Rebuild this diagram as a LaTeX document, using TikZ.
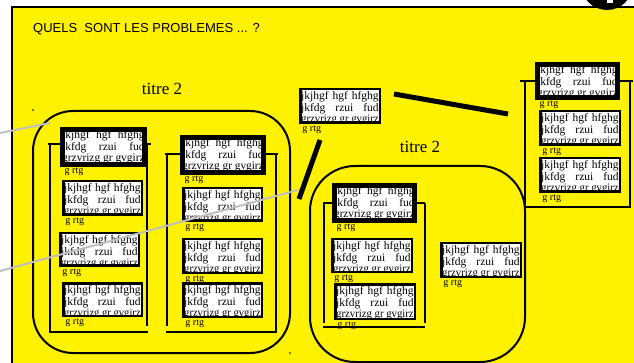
\documentclass[tikz,border=0pt]{standalone}
\usepackage{fontspec}
\setmainfont{Liberation Serif}
\newfontfamily\sansf{Liberation Sans}
\usetikzlibrary{calc}
\tikzset{
  kbox/.style={rectangle, draw=black, fill=white, inner sep=0pt, outer sep=0pt},
  lbl/.style={anchor=base west, inner sep=0pt, font=\fontsize{10}{10}\selectfont},
  brk/.style={line width=2pt},
  grp/.style={draw=black, line width=2pt, rectangle, inner sep=0pt},
  thk/.style={line width=5pt},
  gry/.style={draw=black!25, line width=2pt},
  ttl/.style={font=\fontsize{17}{17}\selectfont, inner sep=0pt}
}
\newcommand\kbtext[1]{\parbox[t]{#1}{\fontsize{11.5}{11.7}\selectfont
\makebox[#1][s]{jkjhgf hgf hfghg}\\
\makebox[#1][s]{jkfdg rzui fud}\\
\resizebox{#1}{\height}{grzvrizg gr gvgirz}}}
\newcommand\kb[6]{%
  \pgfmathsetmacro\kbW{#4-#6}%
  \pgfmathsetmacro\kbH{#5-#6}%
  \pgfmathsetmacro\kbX{#2+#4/2}%
  \pgfmathsetmacro\kbY{#3+#5/2}%
  \pgfmathsetmacro\kbT{#4-4.5}%
  \pgfmathsetmacro\kbL{#6/2}%
  \pgfmathsetmacro\kbTx{#2+2}%
  \pgfmathsetmacro\kbTy{#3+11.5}%
  \node[kbox, line width=#6pt, minimum width=\kbW pt, minimum height=\kbH pt] (#1) at (\kbX,\kbY) {};
  \begin{scope}
    \clip ([shift={(\kbL pt,\kbL pt)}]#1.south west) rectangle ([shift={(-\kbL pt,-\kbL pt)}]#1.north east);
    \node[anchor=base west, inner sep=0pt] (#1t) at (\kbTx,\kbTy) {\kbtext{\kbT pt}};
  \end{scope}
  \draw[line width=#6pt] (#1.south west) rectangle (#1.north east);
  \node[lbl] (#1l) at ([shift={(2pt,-9pt)}]#1.south west) {g rtg};
}
\begin{document}
\begin{tikzpicture}[x=1pt,y=-1pt]
\useasboundingbox (0,0) rectangle (634,363);
% background
\fill[yellow] (12,7) rectangle (640,370);
\draw[line width=2pt] (12,370) -- (12,7) -- (640,7);
\fill[black] (607,-16) circle (26);
\fill[white] (607,-1) rectangle (613,3);
% title
\node[anchor=base west, inner sep=0pt, font=\sansf\fontsize{13}{13}\selectfont] (H) at (33,32.5) {QUELS\ \ SONT LES PROBLEMES ... ?};
\node[ttl] (T1) at (162,88.5) {titre 2};
\node[ttl] (T2) at (420,147) {titre 2};
% groups
\node[grp, rounded corners=40pt, minimum width=257pt, minimum height=242pt] (G1) at (161.5,232) {};
\node[grp, rounded corners=45pt, minimum width=215pt, minimum height=196pt] (G2) at (417.5,264) {};
% brackets
\draw[brk] (48,144) -- (151,144);
\draw[brk] (50,144) -- (50,332) -- (148,332);
\draw[brk] (147,144) -- (147,326);
\draw[brk] (165,154) -- (278,154);
\draw[brk] (167,154) -- (167,326);
\draw[brk] (166,332) -- (276,332) -- (276,154);
\draw[brk] (324,203) -- (425,203);
\draw[brk] (324,202) -- (324,323);
\draw[brk] (425,203) -- (425,323);
\draw[brk] (323,327) -- (425,327);
\draw[brk] (520,81) -- (633,81);
\draw[brk] (525,81) -- (525,207) -- (630,207) -- (630,81);
% boxes
\kb{A1}{60}{127}{87}{40}{5}
\kb{A2}{62}{180}{81}{36}{2.5}
\kb{A3}{59}{232}{81}{35}{2.5}
\kb{A4}{62}{282}{81}{35}{2.5}
\kb{B1}{180}{135}{86}{40}{5}
\kb{B2}{182}{187}{81}{35}{2.5}
\kb{B3}{182}{238}{81}{36}{2.5}
\kb{B4}{182}{282}{81}{36}{2.5}
\kb{C}{299}{88}{82}{36}{2.5}
\kb{D1}{535}{62}{85}{38}{5}
\kb{D2}{539}{110}{82}{36}{2.5}
\kb{D3}{539}{157}{82}{36}{2.5}
\kb{E1}{332}{183}{85}{40}{5}
\kb{E2}{331}{238}{82}{35}{2.5}
\kb{E3}{334}{283}{82}{37}{2.5}
\kb{F}{440}{242}{82}{36}{2.5}
% thick lines
\coordinate (k1a) at (394,94);
\coordinate (k1b) at (508,114);
\coordinate (k2a) at (320,140);
\coordinate (k2b) at (299,199);
\draw[thk] (k1a) -- (k1b);
\draw[thk] (k2a) -- (k2b);
% gray lines
\coordinate (ga1) at (0,133);
\coordinate (ga2) at (50,123);
\coordinate (gb1) at (0,271);
\coordinate (gb2) at (298,190);
\draw[gry] (ga1) -- (ga2);
\draw[gry] (gb1) -- (gb2);
% dots
\fill (33,110) circle (0.8);
\fill (290,353) circle (0.8);
\end{tikzpicture}
\end{document}
